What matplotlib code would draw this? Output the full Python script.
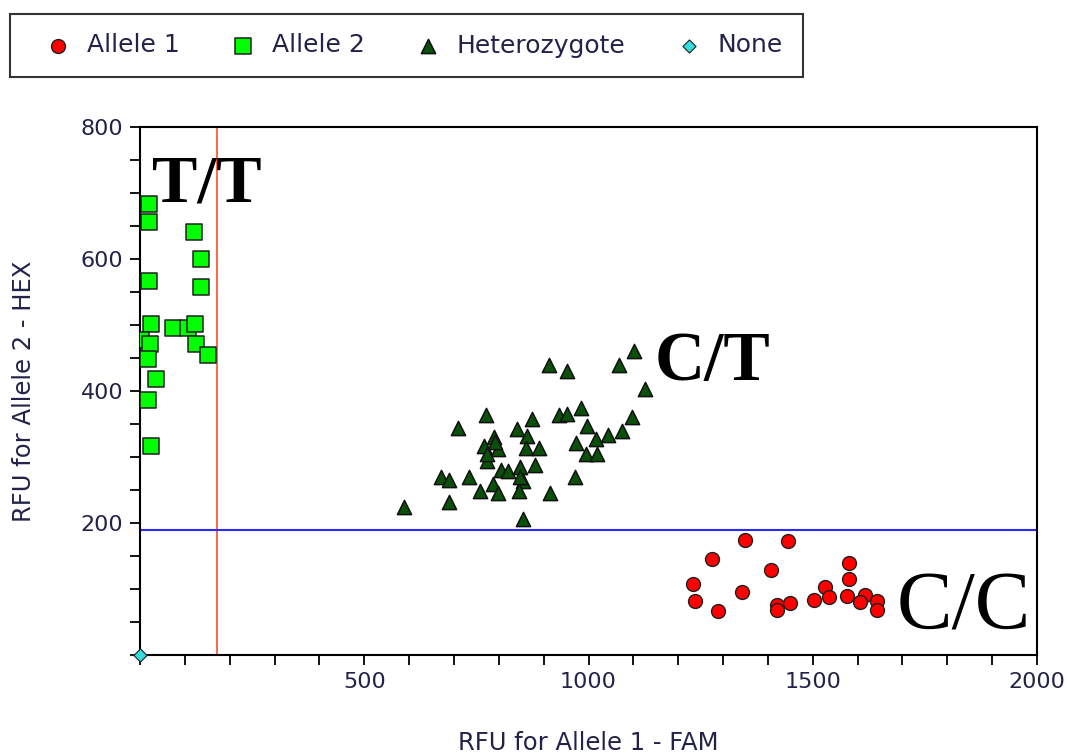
import numpy as np
import matplotlib
matplotlib.use("Agg")
import matplotlib.pyplot as plt
from matplotlib.ticker import MultipleLocator, FixedLocator

# ---------------------------------------------------------------------------
# Data
# ---------------------------------------------------------------------------
# Allele 2 homozygotes (T/T)
allele2_x = [21, 21, 120, 137, 21, 137, 24, 74, 108, 123, 3, 22, 125, 152, 18, 35, 18, 24]
allele2_y = [683, 656, 641, 600, 566, 558, 501, 496, 496, 502, 478, 471, 471, 455, 448, 418, 387, 316]

# Heterozygotes (C/T)
het_x = [913, 953, 1069, 1102, 1126, 771, 710, 934, 953, 983, 1098, 873, 840, 789,
         862, 997, 1075, 1043, 1017, 972, 767, 799, 861, 890, 994, 1020, 774, 881,
         804, 821, 847, 671, 690, 734, 970, 786, 853, 758, 799, 846, 914, 690, 589,
         853, 792, 774, 847]
het_y = [440, 431, 439, 460, 403, 364, 344, 364, 365, 374, 361, 357, 342, 331,
         332, 347, 340, 333, 328, 321, 316, 312, 313, 313, 305, 305, 294, 288,
         280, 279, 285, 269, 265, 269, 269, 259, 263, 249, 245, 248, 246, 232, 225,
         206, 323, 305, 270]

# Allele 1 homozygotes (C/C)
allele1_x = [1349, 1444, 1275, 1581, 1406, 1581, 1234, 1342, 1527, 1237, 1289,
             1420, 1421, 1449, 1503, 1537, 1577, 1617, 1605, 1644, 1644]
allele1_y = [174, 172, 146, 140, 129, 115, 108, 96, 103, 82, 67,
             76, 68, 79, 83, 88, 89, 91, 81, 82, 68]

# No call
none_x = [0]
none_y = [0]

# Cluster thresholds
x_threshold = 172
y_threshold = 189

txt_col = "#23234a"

fig = plt.figure(figsize=(10.69, 7.56), dpi=100)
ax = fig.add_axes([140 / 1069, 101 / 756, 897 / 1069, 528 / 756])

ax.axvline(x_threshold, color="#ff5a3c", lw=1.3, zorder=1)
ax.axhline(y_threshold, color="#2a2aff", lw=1.5, zorder=1)

h1 = ax.scatter(allele1_x, allele1_y, s=100, marker="o", c="#ff0000",
                edgecolors="#202020", linewidths=1.0, zorder=3, label="Allele 1")
h2 = ax.scatter(allele2_x, allele2_y, s=120, marker="s", c="#00ff00",
                edgecolors="#202020", linewidths=1.1, zorder=3, label="Allele 2")
h3 = ax.scatter(het_x, het_y, s=105, marker="^", c="#0a500a",
                edgecolors="#101010", linewidths=1.1, zorder=3, label="Heterozygote")
h4 = ax.scatter(none_x, none_y, s=45, marker="D", c="#33dddd",
                edgecolors="#202020", linewidths=0.8, zorder=4, label="None",
                clip_on=False)

# cluster labels
ax.text(27, 759, "T/T", fontfamily="Liberation Serif", fontweight="bold",
        fontsize=49, va="top", ha="left", color="black")
ax.text(1148, 491, "C/T", fontfamily="Liberation Serif", fontweight="bold",
        fontsize=50, va="top", ha="left", color="black")
ax.text(1688, 128, "C/C", fontfamily="Liberation Serif",
        fontsize=60, va="top", ha="left", color="black")

ax.set_xlim(0, 2000)
ax.set_ylim(0, 800)
ax.xaxis.set_major_locator(FixedLocator([500, 1000, 1500, 2000]))
ax.xaxis.set_minor_locator(MultipleLocator(100))
ax.yaxis.set_major_locator(FixedLocator([200, 400, 600, 800]))
ax.yaxis.set_minor_locator(MultipleLocator(50))
ax.tick_params(which="both", direction="out", length=7, width=1.3, color="black",
               labelsize=16, labelcolor=txt_col)
ax.tick_params(axis="x", pad=5)
ax.tick_params(axis="y", pad=5)
for sp in ax.spines.values():
    sp.set_linewidth(1.5)
    sp.set_color("black")

ax.set_xlabel("RFU for Allele 1 - FAM", fontsize=17.5, color=txt_col, labelpad=28)
ax.set_ylabel("RFU for Allele 2 - HEX", fontsize=17.5, color=txt_col, labelpad=32)

leg = fig.legend(handles=[h1, h2, h3, h4], ncol=4, loc="upper left",
                 bbox_to_anchor=(10 / 1069, 1 - 14 / 756), fontsize=18,
                 frameon=True, fancybox=False, markerscale=1.0,
                 handlelength=2.24, handletextpad=0.05, columnspacing=1.4,
                 borderpad=0.78, borderaxespad=0)
leg.get_frame().set_edgecolor("black")
leg.get_frame().set_linewidth(1.5)
for t in leg.get_texts():
    t.set_color(txt_col)

fig.savefig("out.png", dpi=100)
